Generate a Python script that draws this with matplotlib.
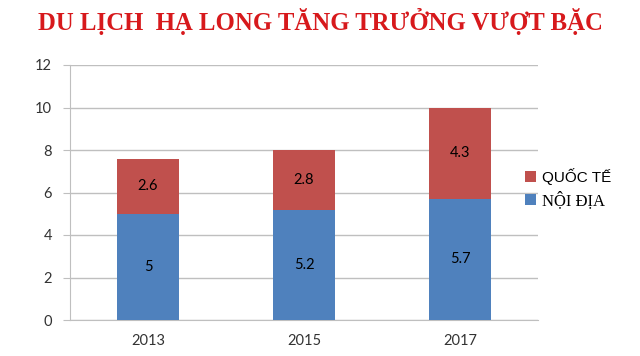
import numpy as np
import matplotlib.pyplot as plt

years = ['2013', '2015', '2017']
noi_dia = [5, 5.2, 5.7]
quoc_te = [2.6, 2.8, 4.3]

fig = plt.figure(figsize=(6.4, 3.56), dpi=100)
ax = fig.add_axes([70 / 640, 1 - 320 / 356, 468 / 640, 255 / 356])

x = np.arange(len(years))
b1 = ax.bar(x, noi_dia, width=0.4, color='#4F81BD', label='NỘI ĐỊA', zorder=3)
b2 = ax.bar(x, quoc_te, width=0.4, bottom=noi_dia, color='#C0504D', label='QUỐC TẾ', zorder=3)

for xi, n, q in zip(x, noi_dia, quoc_te):
    ax.text(xi, n / 2, f'{n:g}', ha='center', va='center', fontsize=10.5, family='Lato', zorder=4)
    ax.text(xi, n + q / 2, f'{q:g}', ha='center', va='center', fontsize=10.5, family='Lato', zorder=4)

ax.set_xlim(-0.5, 2.5)
ax.set_ylim(0, 12)
ax.set_yticks(range(0, 13, 2))
ax.set_xticks(x)
ax.set_xticklabels(years)
ax.grid(axis='y', color='#BFBFBF', linewidth=1, zorder=0)
for s in ['top', 'right']:
    ax.spines[s].set_visible(False)
for s in ['left', 'bottom']:
    ax.spines[s].set_color('#BFBFBF')
ax.tick_params(axis='y', colors='#BFBFBF', labelcolor='#333333', length=5, labelsize=10.5, pad=8)
ax.tick_params(axis='x', length=0, labelcolor='#333333', labelsize=10.5, pad=10)
for lab in ax.get_xticklabels() + ax.get_yticklabels():
    lab.set_family('Lato')

fig.text(0.5, 0.94, 'DU LỊCH  HẠ LONG TĂNG TRƯỞNG VƯỢT BẶC', ha='center', va='center',
         color='#D7191C', fontsize=17.8, fontweight='bold', family='Liberation Serif')

leg = ax.legend(handles=[b2, b1], loc='center left', bbox_to_anchor=(0.972, 0.516),
                frameon=False, borderaxespad=0, borderpad=0,
                handlelength=0.7, handleheight=0.7, handletextpad=0.4,
                labelspacing=0.4, fontsize=11)
texts = leg.get_texts()
texts[0].set_family('Liberation Sans')
texts[1].set_family('Liberation Serif')
texts[1].set_fontsize(12)

fig.savefig('out.png', dpi=100)
